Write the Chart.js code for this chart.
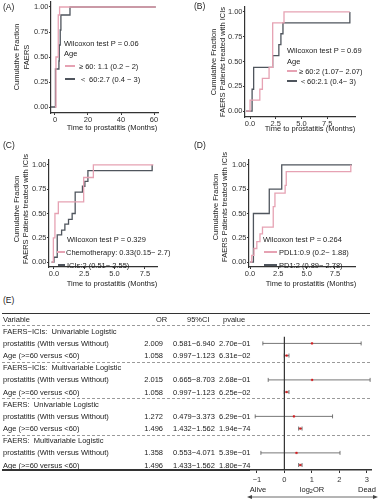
<!DOCTYPE html>
<html><head><meta charset="utf-8">
<script src="https://cdn.jsdelivr.net/npm/chart.js@4.4.1/dist/chart.umd.min.js"></script>
<style>
body{margin:0;width:379px;height:500px;background:#fff;position:relative;overflow:hidden;font-family:"Liberation Sans",Arial,sans-serif;color:#222;}
.t{position:absolute;white-space:pre;font-size:7.5px;line-height:9px;}
.rot{position:absolute;white-space:pre;font-size:7.5px;line-height:9px;transform:translate(-50%,-50%) rotate(-90deg);}
canvas{position:absolute;}
.hl{position:absolute;}
</style></head><body>
<script>
// ---------- DATA ----------
const panelLabels = ['(A)', '(B)', '(C)', '(D)', '(E)'];
const timeTitle = 'Time to prostatitis (Months)';
const yTitleA = ['Cumulative Fraction', 'FAERS'];
const yTitleBCD = ['Cumulative Fraction', 'FAERS Patients treated with ICIs'];
const yTicksKM = [0, 0.25, 0.5, 0.75, 1];
const xTicksA = [0, 20, 40, 60];
const xTicksBCD = [0, 2.5, 5, 7.5];

// Panel A: Age groups (FAERS)
const aOldTime = [0, 0.6, 2.0, 2.8, 61];
const aOldFrac = [0, 0.5, 0.92, 1.0, 1.0];
const aYoungTime = [-2.4, 0.3, 2.4, 2.6, 3.2, 3.6, 9.1, 61];
const aYoungFrac = [0, 0.38, 0.46, 0.62, 0.77, 0.92, 1.0, 1.0];
const aLegend = ['Wilcoxon test P = 0.06', 'Age', '\u2265 60: 1.1 (0.2 \u2212 2)', '\uFF1C 60:2.7 (0.4 \u2212 3)'];

// Panel B: Age groups (ICIs)
const bOldTime = [-0.4, 0.0, 0.95, 1.2, 1.85, 2.2, 3.3, 9.7];
const bOldFrac = [0, 0.11, 0.22, 0.33, 0.44, 0.89, 1.0, 1.0];
const bYoungTime = [-0.4, 0.2, 0.35, 2.2, 2.8, 3.0, 3.2, 9.7];
const bYoungFrac = [0, 0.22, 0.44, 0.56, 0.67, 0.78, 0.89, 1.0];
const bLegend = ['Wilcoxon test P = 0.69', 'Age', '\u2265 60:2 (1.07\u2212 2.07)', '\uFF1C60:2.1 (0.4\u2212 3)'];

// Panel C: Chemotherapy vs ICIs
const cChemoTime = [-0.2, -0.05, 0.08, 0.36, 2.45, 3.25, 8.2];
const cChemoFrac = [0, 0.25, 0.5, 0.62, 0.87, 1.0, 1.0];
const cIciTime = [-0.2, 0.0, 0.27, 0.63, 0.9, 1.2, 1.5, 1.75, 2.35, 2.55, 2.8, 8.1];
const cIciFrac = [0, 0.05, 0.28, 0.33, 0.39, 0.44, 0.5, 0.72, 0.78, 0.83, 0.94, 1.0];
const cLegend = ['Wilcoxon test P = 0.329', 'Chemotherapy: 0.33(0.15\u2212 2.7)', 'ICIs:2 (0.51\u2212 2.55)'];

// Panel D: PDL1 vs PD1
const dPdl1Time = [0, 0.15, 0.35, 0.6, 0.88, 1.1, 2.05, 2.2, 3.1, 3.2, 8.9];
const dPdl1Frac = [0, 0.07, 0.14, 0.21, 0.29, 0.36, 0.57, 0.71, 0.79, 0.93, 1.0];
const dPd1Time = [0, 0.3, 1.7, 2.8, 9.0];
const dPd1Frac = [0, 0.5, 0.75, 1.0, 1.0];
const dLegend = ['Wilcoxon test P = 0.264', 'PDL1:0.9 (0.2\u2212 1.88)', 'PD1:2 (0.89\u2212 2.78)'];

// Panel E: logistic regression table / forest plot
const tableHeader = ['Variable', 'OR', '95%CI', 'pvalue'];
const modelGroups = ['FAERS\u2212ICIs:  Univariable Logistic', 'FAERS\u2212ICIs:  Multivariable Logistic',
  'FAERS:  Univariable Logistic', 'FAERS:  Multivariable Logistic'];
const variableNames = ['prostatitis (With versus Without)', 'Age (>=60 versus <60)'];
const orValues = [2.009, 1.058, 2.015, 1.058, 1.272, 1.496, 1.358, 1.496];
const ciLow = [0.581, 0.997, 0.665, 0.997, 0.479, 1.432, 0.553, 1.433];
const ciHigh = [6.940, 1.123, 8.703, 1.123, 3.373, 1.562, 4.071, 1.562];
const pValues = ['2.70e\u221201', '6.31e\u221202', '2.68e\u221201', '6.25e\u221202', '6.29e\u221201', '1.94e\u221274', '5.39e\u221201', '1.80e\u221274'];
const forestTickOR = [0.5, 1, 2, 4, 8];
const forestTickLabels = ['\u22121', '0', '1', '2', '3'];
const forestAxisLabels = ['Alive', 'Dead'];

// ---------- STYLE ----------
const PINK = '#e6a2b3';
const GRAY = '#4f555d';
const AXIS = '#333333';
const FONT = {family: '"Liberation Sans", Arial, sans-serif', size: 7.5};

function txt(s, x, y, extra) {
  const d = document.createElement('div');
  d.className = 't';
  d.textContent = s;
  d.style.left = x + 'px';
  d.style.top = (y - 4.5) + 'px';
  if (extra) Object.assign(d.style, extra);
  document.body.appendChild(d);
  return d;
}
function ctxt(s, cx, y, extra) {
  const d = txt(s, cx, y, extra);
  d.style.transform = 'translateX(-50%)';
  return d;
}
function rtxt(s, rx, y) {
  const d = txt(s, 0, y);
  d.style.left = 'auto';
  d.style.right = (379 - rx) + 'px';
  return d;
}
function rot(s, cx, cy) {
  const d = document.createElement('div');
  d.className = 'rot';
  d.textContent = s;
  d.style.left = cx + 'px';
  d.style.top = cy + 'px';
  document.body.appendChild(d);
}
function hline(x1, x2, y, h, color, dashed) {
  const d = document.createElement('div');
  d.className = 'hl';
  d.style.left = x1 + 'px';
  d.style.width = (x2 - x1) + 'px';
  d.style.top = y + 'px';
  if (dashed) {
    d.style.height = '0px';
    d.style.borderTop = h + 'px dashed ' + color;
  } else {
    d.style.height = h + 'px';
    d.style.background = color;
  }
  document.body.appendChild(d);
}
function legendLine(x1, x2, y, color) { hline(x1, x2, y - 0.65, 1.3, color, false); }

function makeCanvas(box) {
  const c = document.createElement('canvas');
  c.width = box.w; c.height = box.h;
  c.style.left = box.l + 'px'; c.style.top = box.t + 'px';
  c.style.width = box.w + 'px'; c.style.height = box.h + 'px';
  document.body.appendChild(c);
  return c;
}

function km(box, area, xr, yr, xTicks, xFmt, series) {
  const c = makeCanvas(box);
  new Chart(c, {
    type: 'line',
    data: {
      datasets: series.map(s => ({
        data: s.t.map((t, i) => ({x: t, y: s.f[i]})),
        borderColor: s.color, borderWidth: 1.3, pointRadius: 0,
        stepped: true, fill: false, tension: 0
      }))
    },
    options: {
      responsive: false, animation: false, devicePixelRatio: 1,
      layout: {padding: {left: 0, top: area.t - box.t, right: box.l + box.w - area.r, bottom: 0}},
      plugins: {legend: {display: false}, tooltip: {enabled: false}},
      scales: {
        x: {
          type: 'linear', min: xr[0], max: xr[1],
          afterBuildTicks: s => { s.ticks = xTicks.map(v => ({value: v})); },
          afterFit: s => { s.height = box.t + box.h - area.b; s.paddingLeft = 0; s.paddingRight = 0; },
          ticks: {font: FONT, color: AXIS, padding: 0, maxRotation: 0, autoSkip: false, callback: xFmt},
          grid: {display: true, drawOnChartArea: false, drawTicks: true, tickLength: 2, color: AXIS, lineWidth: 1},
          border: {display: true, color: AXIS, width: 1.2}
        },
        y: {
          type: 'linear', min: yr[0], max: yr[1],
          afterBuildTicks: s => { s.ticks = yTicksKM.map(v => ({value: v})); },
          afterFit: s => { s.width = area.l - box.l; s.paddingTop = 0; s.paddingBottom = 0; },
          ticks: {font: FONT, color: AXIS, padding: 0.5, autoSkip: false, callback: v => v.toFixed(2)},
          grid: {display: true, drawOnChartArea: false, drawTicks: true, tickLength: 2, color: AXIS, lineWidth: 1},
          border: {display: true, color: AXIS, width: 1.2}
        }
      }
    }
  });
}

// ---------- PANEL A ----------
km({l: 0, t: 0, w: 162, h: 126}, {l: 51, r: 158, t: 2, b: 113}, [-2.4, 62.4], [-0.06, 1.05],
  xTicksA, v => String(v),
  [{t: aOldTime, f: aOldFrac, color: PINK}, {t: aYoungTime, f: aYoungFrac, color: GRAY}]);
// ---------- PANEL B ----------
km({l: 190, t: 0, w: 170, h: 129}, {l: 245, r: 355, t: 7, b: 117}, [-0.49, 10.2], [-0.06, 1.05],
  xTicksBCD, v => v.toFixed(1),
  [{t: bOldTime, f: bOldFrac, color: PINK}, {t: bYoungTime, f: bYoungFrac, color: GRAY}]);
// ---------- PANEL C ----------
km({l: 0, t: 140, w: 162, h: 140}, {l: 49, r: 157, t: 160, b: 267}, [-0.41, 8.5], [-0.05, 1.05],
  xTicksBCD, v => v.toFixed(1),
  [{t: cChemoTime, f: cChemoFrac, color: PINK}, {t: cIciTime, f: cIciFrac, color: GRAY}]);
// ---------- PANEL D ----------
km({l: 190, t: 140, w: 170, h: 140}, {l: 249, r: 355, t: 160, b: 267}, [-0.09, 9.27], [-0.05, 1.05],
  xTicksBCD, v => v.toFixed(1),
  [{t: dPdl1Time, f: dPdl1Frac, color: PINK}, {t: dPd1Time, f: dPd1Frac, color: GRAY}]);

// panel labels
txt(panelLabels[0], 3, 7, {fontSize: '8.5px'});
txt(panelLabels[1], 194, 6, {fontSize: '8.5px'});
txt(panelLabels[2], 3, 145, {fontSize: '8.5px'});
txt(panelLabels[3], 194, 145, {fontSize: '8.5px'});
txt(panelLabels[4], 3, 300, {fontSize: '8.5px'});

// axis titles
ctxt(timeTitle, 112, 127);
ctxt(timeTitle, 310, 128);
ctxt(timeTitle, 112, 283);
ctxt(timeTitle, 311, 283);
rot(yTitleA[0], 16, 57); rot(yTitleA[1], 26, 57);
rot(yTitleBCD[0], 213, 62); rot(yTitleBCD[1], 222, 62);
rot(yTitleBCD[0], 16, 209); rot(yTitleBCD[1], 25, 209);
rot(yTitleBCD[0], 215, 207); rot(yTitleBCD[1], 224, 207);

// legends
txt(aLegend[0], 64, 43); txt(aLegend[1], 64, 53);
legendLine(65, 75, 66, PINK); txt(aLegend[2], 79, 66);
legendLine(65, 75, 79, GRAY); txt(aLegend[3], 79, 79);

txt(bLegend[0], 287, 50); txt(bLegend[1], 287, 61);
legendLine(287, 297, 71, PINK); txt(bLegend[2], 299, 71);
legendLine(287, 297, 81, GRAY); txt(bLegend[3], 299, 81);

txt(cLegend[0], 67, 239);
legendLine(57, 65, 252, PINK); txt(cLegend[1], 66, 252);
legendLine(58, 65, 265, GRAY); txt(cLegend[2], 67, 265);

txt(dLegend[0], 263, 239);
legendLine(264, 277, 252, PINK); txt(dLegend[1], 279, 252);
legendLine(264, 277, 265, GRAY); txt(dLegend[2], 279, 265);

// ---------- PANEL E TABLE ----------
const ROW0 = 319, ROWH = 12.17;
const rowY = r => ROW0 + ROWH * r;
const dataRow = i => 2 + Math.floor(i / 2) * 3 + (i % 2);

hline(2, 370, 312.5, 1.5, '#333', false);
txt(tableHeader[0], 3, rowY(0));
txt(tableHeader[1], 156, rowY(0));
txt(tableHeader[2], 187, rowY(0));
txt(tableHeader[3], 223, rowY(0));
for (let g = 0; g < modelGroups.length; g++) {
  hline(2, 370, rowY(0.5 + 3 * g), 1, '#9a9a9a', true);
  txt(modelGroups[g], 3, rowY(1 + 3 * g));
}
for (let i = 0; i < orValues.length; i++) {
  const y = rowY(dataRow(i));
  txt(variableNames[i % 2], 3, y);
  rtxt(orValues[i].toFixed(3), 163, y);
  txt(ciLow[i].toFixed(3) + '\u2212' + ciHigh[i].toFixed(3), 173, y);
  txt(pValues[i], 219, y);
}
hline(2, 250, 469.3, 1.5, '#333', false);

// ---------- PANEL E FOREST ----------
(function () {
  const box = {l: 220, t: 305, w: 159, h: 190};
  const area = {l: 250, r: 371, t: 313, b: 470};
  const yMin = -0.5, yMax = (area.b - ROW0) / ROWH;
  const c = makeCanvas(box);
  const datasets = [];
  datasets.push({
    data: [{x: 1, y: 1.45}, {x: 1, y: yMax}], showLine: true,
    borderColor: AXIS, borderWidth: 1.2, pointRadius: 0
  });
  for (let i = 0; i < orValues.length; i++) {
    const r = dataRow(i);
    datasets.push({
      data: [{x: ciLow[i], y: r}, {x: ciHigh[i], y: r}], showLine: true,
      borderColor: '#555', borderWidth: 0.8,
      pointStyle: 'line', pointRotation: 90, pointRadius: 2, pointBorderWidth: 0.8,
      pointBorderColor: '#555', pointBackgroundColor: '#555'
    });
  }
  datasets.unshift({
    data: orValues.map((v, i) => ({x: v, y: dataRow(i)})),
    pointStyle: 'rect', pointRadius: 1.2, pointBackgroundColor: '#d7191c',
    pointBorderColor: '#d7191c', pointBorderWidth: 0.4, showLine: false
  });
  new Chart(c, {
    type: 'scatter',
    data: {datasets},
    options: {
      responsive: false, animation: false, devicePixelRatio: 1,
      layout: {padding: {left: area.l - box.l, top: area.t - box.t, right: box.l + box.w - area.r, bottom: 0}},
      plugins: {legend: {display: false}, tooltip: {enabled: false}},
      scales: {
        x: {
          type: 'logarithmic', min: 0.42, max: 8.9,
          afterBuildTicks: s => { s.ticks = forestTickOR.map(v => ({value: v})); },
          afterFit: s => { s.height = box.t + box.h - area.b; s.paddingLeft = 0; s.paddingRight = 0; },
          ticks: {font: FONT, color: AXIS, padding: 2, maxRotation: 0, autoSkip: false,
            callback: (v) => forestTickLabels[forestTickOR.indexOf(v)]},
          grid: {display: true, drawOnChartArea: false, drawTicks: true, tickLength: 3, color: AXIS, lineWidth: 1},
          border: {display: true, color: AXIS, width: 1.5}
        },
        y: {type: 'linear', reverse: true, min: yMin, max: yMax, display: false}
      }
    }
  });
})();

ctxt(forestAxisLabels[0], 258, 489);
const lg = ctxt('', 312, 489);
lg.innerHTML = 'log<span style="font-size:5.5px;position:relative;top:1.5px">2</span>OR';
ctxt(forestAxisLabels[1], 367, 489);

const svgNS = 'http://www.w3.org/2000/svg';
const svg = document.createElementNS(svgNS, 'svg');
svg.setAttribute('width', '379'); svg.setAttribute('height', '500');
svg.style.position = 'absolute'; svg.style.left = '0'; svg.style.top = '0';
svg.innerHTML = '<line x1="250" y1="497" x2="375" y2="497" stroke="#444" stroke-width="0.8"/>' +
  '<polygon points="247,497 252,495 252,499" fill="#444"/>' +
  '<polygon points="378,497 373,495 373,499" fill="#444"/>';
document.body.appendChild(svg);
</script>
</body></html>
